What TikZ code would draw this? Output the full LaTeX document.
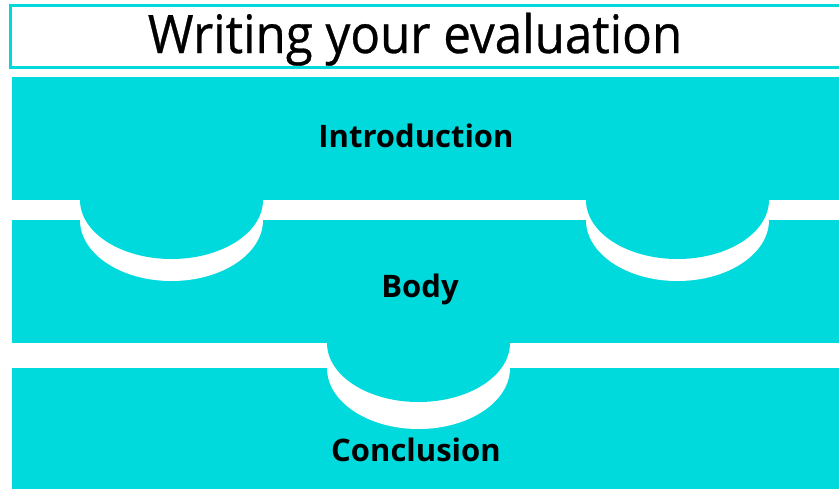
\documentclass[tikz,border=0pt]{standalone}
\usepackage{fontspec}
\setmainfont{Open Sans}
\newfontfamily\headfont{Open Sans}[FakeBold=0.6]
\definecolor{bandteal}{HTML}{00DADC}
\begin{document}
\begin{tikzpicture}[x=1pt,y=1pt,
  band/.style={fill=bandteal},
  rim/.style={fill=white},
  label/.style={anchor=base,inner sep=0pt,font=\fontsize{31}{36}\selectfont\bfseries},
  heading/.style={anchor=base,inner sep=0pt,font=\fontsize{53}{60}\headfont}]
\useasboundingbox (0,0) rectangle (839,-488);
\clip (0,0) rectangle (839,-488);

% title frame
\draw[bandteal,line width=3pt,fill=white] (10.5,-5.5) rectangle (870,-67.5);
\node[heading] (title) at (415,-53) {\scalebox{0.93}[1]{Writing your evaluation}};

% the three bands
\fill[band] (12,-77) rectangle (845,-200);
\fill[band] (12,-220) rectangle (845,-343);
\fill[band] (12,-368) rectangle (845,-495);

% tabs of the first band, hanging over the second
\foreach \cx in {171.5,677.5}{
  \fill[rim] (\cx-91.5,-200) -- (\cx-91.5,-220)
    arc[start angle=180,end angle=360,x radius=91.5,y radius=61] -- (\cx+91.5,-200) -- cycle;
  \fill[band] (\cx-91.5,-199) -- (\cx-91.5,-200)
    arc[start angle=180,end angle=360,x radius=91.5,y radius=59] -- (\cx+91.5,-199) -- cycle;
}
% tab of the second band, hanging over the third
\fill[rim] (327,-343) -- (327,-368)
  arc[start angle=180,end angle=360,x radius=91.5,y radius=61] -- (510,-343) -- cycle;
\fill[band] (327,-342) -- (327,-343)
  arc[start angle=180,end angle=360,x radius=91.5,y radius=59] -- (510,-342) -- cycle;

\node[label] (intro) at (416,-147) {Introduction};
\node[label] (body) at (420,-297) {Body};
\node[label] (concl) at (416,-461) {Conclusion};
\end{tikzpicture}
\end{document}
